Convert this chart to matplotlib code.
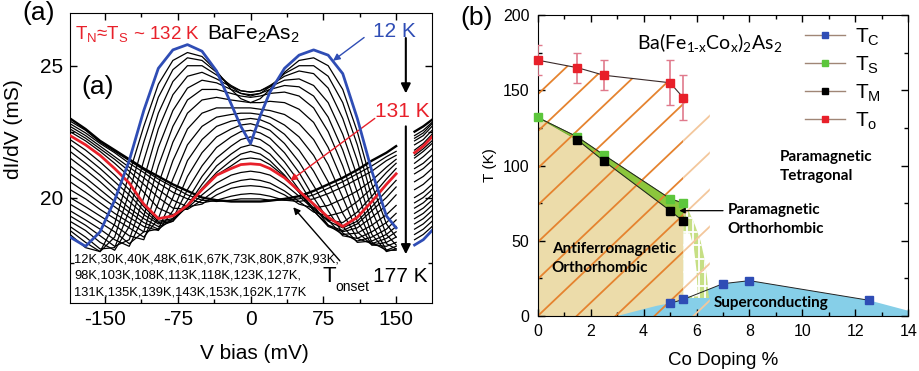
import numpy as np
import matplotlib
matplotlib.use('Agg')
import matplotlib.pyplot as plt
from matplotlib.ticker import MultipleLocator
from matplotlib.patches import Polygon
from matplotlib.lines import Line2D

plt.rcParams['font.family'] = ['Liberation Sans', 'DejaVu Sans']
plt.rcParams['mathtext.fontset'] = 'custom'
plt.rcParams['mathtext.rm'] = 'Liberation Sans'
plt.rcParams['axes.unicode_minus'] = False

# ---------------- (a) dI/dV spectra of BaFe2As2 ----------------
# last three bias points belong to the short segment past the break
bias = [-186, -170, -155, -140, -125, -110, -95, -80, -65, -50, -35, -20, -10,
        0, 10, 20, 35, 50, 65, 80, 95, 110, 125, 140, 150, 169, 178, 187]
n_main = 25

temps = [12, 30, 40, 48, 61, 67, 73, 80, 87, 93, 98, 103, 108, 113, 118, 123,
         127, 131, 135, 139, 143, 153, 162, 177]

didv = {
    12:  [18.5, 18.15, 18.7, 19.9, 21.4, 23.3, 24.9, 25.6, 25.8, 25.55, 24.8, 23.55, 22.7, 22.05, 23.1, 24.0, 24.9, 25.4, 25.6, 25.4, 24.7, 23.0, 21.0, 19.3, 18.85, 18.2, 18.4, 18.75],
    30:  [18.6, 18.1, 17.95, 19.0, 20.9, 22.7, 24.3, 25.2, 25.5, 25.35, 24.8, 24.1, 23.75, 23.6, 23.75, 24.1, 24.75, 25.2, 25.3, 25.0, 24.1, 22.5, 20.5, 19.0, 18.5, 18.4, 18.6, 18.9],
    40:  [18.75, 18.3, 17.95, 18.5, 20.2, 22.1, 23.8, 24.85, 25.3, 25.2, 24.75, 24.2, 23.95, 23.85, 23.95, 24.2, 24.7, 25.0, 25.0, 24.6, 23.6, 22.0, 20.0, 18.6, 18.2, 18.6, 18.8, 19.1],
    48:  [18.9, 18.5, 18.05, 18.1, 19.5, 21.4, 23.2, 24.4, 25.0, 25.0, 24.65, 24.25, 24.05, 24.0, 24.05, 24.25, 24.6, 24.8, 24.7, 24.15, 23.0, 21.4, 19.5, 18.25, 18.05, 18.8, 19.0, 19.3],
    61:  [19.1, 18.75, 18.3, 18.0, 18.9, 20.7, 22.6, 23.9, 24.6, 24.75, 24.5, 24.2, 24.05, 24.0, 24.05, 24.2, 24.45, 24.5, 24.25, 23.6, 22.4, 20.8, 19.0, 18.0, 18.0, 19.0, 19.2, 19.5],
    67:  [19.3, 18.95, 18.55, 18.15, 18.4, 20.0, 21.9, 23.3, 24.15, 24.45, 24.35, 24.1, 23.95, 23.9, 23.95, 24.1, 24.25, 24.2, 23.85, 23.05, 21.8, 20.2, 18.6, 17.95, 18.05, 19.2, 19.4, 19.7],
    73:  [19.5, 19.15, 18.8, 18.4, 18.15, 19.3, 21.2, 22.7, 23.7, 24.1, 24.1, 23.95, 23.85, 23.8, 23.85, 23.95, 24.0, 23.85, 23.4, 22.5, 21.2, 19.6, 18.3, 18.0, 18.15, 19.4, 19.6, 19.9],
    80:  [19.75, 19.4, 19.05, 18.7, 18.25, 18.7, 20.5, 22.1, 23.2, 23.7, 23.8, 23.7, 23.65, 23.6, 23.6, 23.65, 23.6, 23.35, 22.85, 21.9, 20.6, 19.1, 18.2, 18.15, 18.3, 19.6, 19.8, 20.1],
    87:  [20.0, 19.65, 19.3, 18.95, 18.55, 18.4, 19.8, 21.4, 22.6, 23.2, 23.4, 23.4, 23.4, 23.4, 23.35, 23.3, 23.15, 22.8, 22.2, 21.25, 20.0, 18.7, 18.2, 18.3, 18.5, 19.8, 20.0, 20.3],
    93:  [20.3, 19.95, 19.55, 19.2, 18.85, 18.5, 19.2, 20.7, 22.0, 22.7, 23.05, 23.15, 23.2, 23.2, 23.15, 23.05, 22.75, 22.3, 21.6, 20.6, 19.4, 18.45, 18.25, 18.45, 18.7, 20.0, 20.2, 20.5],
    98:  [20.6, 20.2, 19.8, 19.4, 19.05, 18.7, 18.8, 20.0, 21.4, 22.2, 22.7, 22.9, 22.95, 23.0, 22.95, 22.8, 22.4, 21.8, 21.0, 20.0, 18.9, 18.3, 18.35, 18.6, 18.9, 20.3, 20.5, 20.8],
    103: [20.9, 20.5, 20.05, 19.65, 19.25, 18.9, 18.75, 19.5, 20.8, 21.7, 22.3, 22.6, 22.75, 22.8, 22.7, 22.55, 22.05, 21.35, 20.45, 19.5, 18.65, 18.35, 18.5, 18.8, 19.15, 20.6, 20.8, 21.1],
    108: [21.2, 20.75, 20.3, 19.85, 19.45, 19.05, 18.8, 19.2, 20.3, 21.2, 21.9, 22.3, 22.5, 22.55, 22.45, 22.25, 21.7, 20.95, 20.0, 19.15, 18.55, 18.45, 18.7, 19.05, 19.4, 20.9, 21.1, 21.4],
    113: [21.5, 21.05, 20.6, 20.1, 19.6, 19.2, 18.9, 19.1, 19.9, 20.8, 21.5, 21.95, 22.2, 22.3, 22.2, 21.95, 21.35, 20.6, 19.7, 18.95, 18.6, 18.65, 18.95, 19.35, 19.7, 21.1, 21.3, 21.6],
    118: [21.75, 21.3, 20.85, 20.35, 19.85, 19.35, 19.0, 19.1, 19.7, 20.5, 21.2, 21.65, 21.9, 22.0, 21.9, 21.65, 21.05, 20.3, 19.5, 18.9, 18.7, 18.85, 19.25, 19.7, 20.1, 21.3, 21.55, 21.85],
    123: [22.0, 21.55, 21.1, 20.6, 20.1, 19.5, 19.05, 19.15, 19.65, 20.35, 20.95, 21.4, 21.65, 21.75, 21.65, 21.4, 20.85, 20.2, 19.5, 18.95, 18.75, 19.0, 19.5, 20.0, 20.4, 21.5, 21.75, 22.05],
    127: [22.2, 21.8, 21.35, 20.85, 20.3, 19.65, 19.1, 19.2, 19.65, 20.3, 20.85, 21.2, 21.45, 21.5, 21.45, 21.25, 20.8, 20.2, 19.6, 19.1, 18.85, 19.1, 19.65, 20.25, 20.65, 21.6, 21.85, 22.15],
    131: [22.35, 22.0, 21.6, 21.1, 20.55, 19.75, 19.2, 19.3, 19.7, 20.3, 20.85, 21.1, 21.25, 21.28, 21.25, 21.1, 20.75, 20.25, 19.75, 19.25, 18.9, 19.25, 19.85, 20.5, 20.9, 21.7, 21.95, 22.3],
    135: [22.5, 22.15, 21.75, 21.3, 20.8, 20.2, 19.6, 19.35, 19.6, 20.1, 20.55, 20.85, 20.95, 21.0, 20.95, 20.85, 20.5, 20.05, 19.55, 19.15, 19.05, 19.45, 20.05, 20.7, 21.1, 21.8, 22.05, 22.4],
    139: [22.6, 22.25, 21.85, 21.45, 21.0, 20.5, 20.0, 19.6, 19.55, 19.9, 20.3, 20.55, 20.65, 20.7, 20.65, 20.55, 20.25, 19.85, 19.45, 19.3, 19.45, 19.85, 20.35, 20.95, 21.3, 22.0, 22.2, 22.55],
    143: [22.7, 22.35, 21.95, 21.55, 21.15, 20.75, 20.3, 19.9, 19.65, 19.75, 20.1, 20.35, 20.42, 20.45, 20.42, 20.35, 20.1, 19.75, 19.6, 19.7, 19.95, 20.25, 20.65, 21.15, 21.45, 22.15, 22.35, 22.7],
    153: [22.8, 22.45, 22.05, 21.7, 21.3, 20.95, 20.55, 20.2, 19.95, 19.8, 19.9, 20.05, 20.12, 20.15, 20.12, 20.05, 19.9, 19.85, 19.95, 20.15, 20.4, 20.7, 21.0, 21.4, 21.6, 22.25, 22.45, 22.8],
    162: [22.9, 22.55, 22.1, 21.75, 21.4, 21.05, 20.7, 20.4, 20.1, 19.9, 19.85, 19.9, 19.95, 19.95, 19.95, 19.9, 19.9, 19.95, 20.1, 20.35, 20.6, 20.9, 21.2, 21.55, 21.75, 22.35, 22.55, 22.85],
    177: [23.0, 22.6, 22.15, 21.8, 21.45, 21.1, 20.8, 20.5, 20.25, 20.0, 19.9, 19.85, 19.85, 19.85, 19.85, 19.88, 19.95, 20.05, 20.25, 20.5, 20.75, 21.05, 21.4, 21.7, 21.95, 22.5, 22.7, 22.95],
}

temp_lines = ['12K,30K,40K,48K,61K,67K,73K,80K,87K,93K,',
              '98K,103K,108K,113K,118K,123K,127K,',
              '131K,135K,139K,143K,153K,162K,177K']

# ---------------- (b) phase diagram of Ba(Fe1-xCox)2As2 ----------------
doping_o = [0, 1.5, 2.5, 5, 5.5]
T_o = [170, 165, 160, 155, 145]
T_o_err = [10, 10, 10, 15, 15]

doping_s = [0, 1.5, 2.5, 5, 5.5]
T_s = [132, 119, 107, 78, 75]

doping_m = [1.5, 2.5, 5, 5.5]
T_m = [117, 103, 70, 63]

doping_c = [5, 5.5, 7, 8, 12.5]
T_c = [8.5, 11, 21.5, 23.5, 10.5]

# edges of the superconducting dome outside the measured Tc points
sc_left_x, sc_left_T = [3.0, 3.5, 4.0, 4.5], [0, 2.3, 4.6, 6.8]
sc_right_x, sc_right_T = [14, 14], [3.5, 0]

# paramagnetic orthorhombic sliver past x = 5.5
ortho_x = [5.5, 5.7, 5.95, 6.15, 6.3, 6.4, 6.45, 6.47, 5.5]
ortho_T = [75, 70, 60, 50, 38, 25, 15, 12, 12]

c_blue, c_green, c_black, c_red = '#2f4db5', '#5cc63c', '#000000', '#e8202a'

fig = plt.figure(figsize=(9.2, 3.71), dpi=100)
ax1 = fig.add_axes([0.0761, 0.1833, 0.3935, 0.7817])
ax2 = fig.add_axes([0.5845, 0.1482, 0.4028, 0.8113])

# ---- panel (a)
v = np.insert(np.array(bias, float), n_main, np.nan)
for t in temps:
    g = np.insert(np.array(didv[t], float), n_main, np.nan)
    if t == 12:
        ax1.plot(v, g, color=c_blue, lw=2.0, zorder=4)
    elif t == 131:
        ax1.plot(v, g, color=c_red, lw=2.0, zorder=3)
    elif t == 177:
        ax1.plot(v, g, color='black', lw=1.7, zorder=2)
    else:
        ax1.plot(v, g, color='black', lw=0.9, zorder=2)

ax1.set_xlim(-186, 187)
ax1.set_ylim(16, 27)
ax1.set_xticks([-150, -75, 0, 75, 150])
ax1.xaxis.set_minor_locator(MultipleLocator(37.5))
ax1.set_yticks([20, 25])
ax1.yaxis.set_minor_locator(MultipleLocator(2.5))
ax1.tick_params(which='both', direction='in', top=True, right=True,
                labelsize=15, width=1)
ax1.tick_params(which='major', length=5, pad=5)
ax1.tick_params(which='minor', length=3)
ax1.set_xlabel('V bias (mV)', fontsize=15)
ax1.set_ylabel('dI/dV (mS)', fontsize=15)
ax1.xaxis.set_label_coords(0.51, -0.14)
ax1.yaxis.set_label_coords(-0.13, 0.6)

ax1.text(-181, 26.0, r'T$_\mathregular{N}$≈T$_\mathregular{S}$ ~ 132 K',
         color=c_red, fontsize=13.5, va='baseline')
ax1.text(-45, 26.0, r'BaFe$_\mathregular{2}$As$_\mathregular{2}$',
         fontsize=15, va='baseline')
ax1.text(-174, 23.94, '(a)', fontsize=19, va='baseline')
ax1.text(126, 26.1, '12 K', color=c_blue, fontsize=15, va='baseline')
ax1.text(128, 23.04, '131 K', color=c_red, fontsize=15, va='baseline')
ax1.text(126, 16.78, '177 K', fontsize=15, va='baseline')
ax1.text(74, 16.78, 'T', fontsize=16, va='baseline')
ax1.text(87, 16.45, 'onset', fontsize=10, va='baseline')
for i, line in enumerate(temp_lines):
    ax1.text(-182, 17.55 - 0.63 * i, line, fontsize=9.3, va='baseline')

ax1.annotate('', xy=(85, 25.19), xytext=(117, 26.07),
             arrowprops=dict(arrowstyle='-|>', color=c_blue, lw=1,
                             mutation_scale=10, shrinkA=0, shrinkB=0))
ax1.annotate('', xy=(41, 20.64), xytext=(128, 23.0),
             arrowprops=dict(arrowstyle='-|>', color=c_red, lw=1,
                             mutation_scale=10, shrinkA=0, shrinkB=0))
ax1.annotate('', xy=(44, 19.63), xytext=(92, 17.6),
             arrowprops=dict(arrowstyle='-|>', color='black', lw=1,
                             mutation_scale=10, shrinkA=0, shrinkB=0))
ax1.annotate('', xy=(160, 23.95), xytext=(160, 26.05),
             arrowprops=dict(arrowstyle='-|>', color='black', lw=1.5,
                             mutation_scale=14, shrinkA=0, shrinkB=0))
ax1.annotate('', xy=(160, 17.85), xytext=(160, 22.7),
             arrowprops=dict(arrowstyle='-|>', color='black', lw=1.5,
                             mutation_scale=14, shrinkA=0, shrinkB=0))

# ---- panel (b)
ax2.fill([0, 0] + doping_m + [doping_m[-1]], [0, T_s[0]] + T_m + [0],
         color='#ecdcaa', lw=0, zorder=1)
ax2.fill(sc_left_x + doping_c + sc_right_x, sc_left_T + T_c + sc_right_T,
         color='#86cfe8', lw=0, zorder=1.1)
dome = ax2.fill(ortho_x, ortho_T, color='#c6df84', lw=0, zorder=1.2)[0]
ax2.fill([5.5, 5.5, 5.75, 5.9, 6.0, 6.05], [13, 55, 55, 45, 30, 13],
         color='white', lw=0, zorder=1.3)
for xg in [5.63, 5.87, 6.1, 6.33]:
    ln, = ax2.plot([xg, xg], [0, 80], color='white', lw=1.3, zorder=1.4)
    ln.set_clip_path(dome)
for tg in [20, 29, 38, 47, 56, 65]:
    ln, = ax2.plot([5.5, 6.5], [tg, tg], color='white', lw=1.3, zorder=1.4)
    ln.set_clip_path(dome)
ax2.fill(doping_s + doping_m[::-1], T_s + T_m[::-1], color='#8cc63c',
         ec='#6aa82a', lw=0.6, zorder=1.5)

# diagonal hatching of the fluctuation region
hatch_dark = Polygon(list(zip([0] + doping_o + [doping_o[-1]], [0] + T_o + [0])),
                     closed=True, fc='none', ec='none', transform=ax2.transData)
hatch_light = Polygon([(5.5, 0), (5.5, 145), (6.5, 138), (6.5, 0)], closed=True,
                      fc='none', ec='none', transform=ax2.transData)
ax2.add_patch(hatch_dark)
ax2.add_patch(hatch_light)
hx = np.array([-12.0, 8.0])
for k in range(-8, 6):
    x0 = 1.47 * k
    a, = ax2.plot(hx, 16.7 * (hx - x0), color='#e5832f', lw=1.3, zorder=2)
    a.set_clip_path(hatch_dark)
    b, = ax2.plot(hx, 16.7 * (hx - x0), color='#f3c79c', lw=1.3, zorder=2)
    b.set_clip_path(hatch_light)

ax2.plot(doping_o, T_o, color='#3a2a2a', lw=0.8, zorder=3)
ax2.plot(doping_s, T_s, color='#222222', lw=0.7, zorder=3)
ax2.plot(doping_m, T_m, color='#222222', lw=0.7, zorder=3)
ax2.plot(doping_c, T_c, color='#222222', lw=0.7, zorder=3)
ax2.errorbar(doping_o, T_o, yerr=T_o_err, fmt='none', ecolor='#e07a8c',
             elinewidth=1.2, capsize=3, capthick=1, zorder=3)
for xs, ts, c in [(doping_o, T_o, c_red), (doping_s, T_s, c_green),
                  (doping_m, T_m, c_black), (doping_c, T_c, c_blue)]:
    ax2.plot(xs, ts, 's', ms=5.5, mfc=c, mec=c, zorder=4, clip_on=False)

handles = [Line2D([], [], color='#a08676', lw=1, marker='s', ms=5, mfc=c, mec=c)
           for c in [c_blue, c_green, c_black, c_red]]
labels = [r'T$_\mathregular{C}$', r'T$_\mathregular{S}$',
          r'T$_\mathregular{M}$', r'T$_\mathregular{o}$']
ax2.legend(handles, labels, loc='upper left', bbox_to_anchor=(0.7, 0.99),
           frameon=False, fontsize=15, handlelength=1.9, handletextpad=0.5,
           labelspacing=0.3, borderaxespad=0)

ax2.text(3.74, 176.7, r'Ba(Fe$_\mathregular{1\text{-}x}$Co$_\mathregular{x}$)$_\mathregular{2}$As$_\mathregular{2}$',
         fontsize=14, family='Lato', va='baseline')
region_text = [(9.15, 103.2, 'Paramagnetic'), (9.15, 90.4, 'Tetragonal'),
               (7.18, 67.8, 'Paramagnetic'), (7.18, 55.4, 'Orthorhombic'),
               (0.53, 41.6, 'Antiferromagnetic'), (0.53, 29.4, 'Orthorhombic'),
               (6.66, 5.8, 'Superconducting')]
for x, t, s in region_text:
    ax2.text(x, t, s, fontsize=11, family='Lato', fontweight='bold',
             va='baseline', zorder=5)
ax2.annotate('', xy=(5.35, 70), xytext=(7.0, 70),
             arrowprops=dict(arrowstyle='-|>', color='black', lw=0.9,
                             mutation_scale=8, shrinkA=0, shrinkB=0), zorder=5)

ax2.set_xlim(0, 14)
ax2.set_ylim(0, 200)
ax2.set_xticks(range(0, 15, 2))
ax2.set_yticks(range(0, 201, 50))
ax2.xaxis.set_minor_locator(MultipleLocator(1))
ax2.yaxis.set_minor_locator(MultipleLocator(25))
ax2.tick_params(which='both', direction='in', top=True, right=True,
                labelsize=11.5, width=1)
ax2.tick_params(which='major', length=5, pad=6)
ax2.tick_params(which='minor', length=3)
ax2.set_xlabel('Co Doping %', fontsize=13.5)
ax2.set_ylabel('T (K)', fontsize=11)
ax2.xaxis.set_label_coords(0.5, -0.12)
ax2.yaxis.set_label_coords(-0.11, 0.5)

fig.text(22 / 920, 1 - 20 / 371, '(a)', fontsize=19, va='baseline')
fig.text(460 / 920, 1 - 25 / 371, '(b)', fontsize=19, va='baseline')

fig.savefig('out.png', dpi=100)
